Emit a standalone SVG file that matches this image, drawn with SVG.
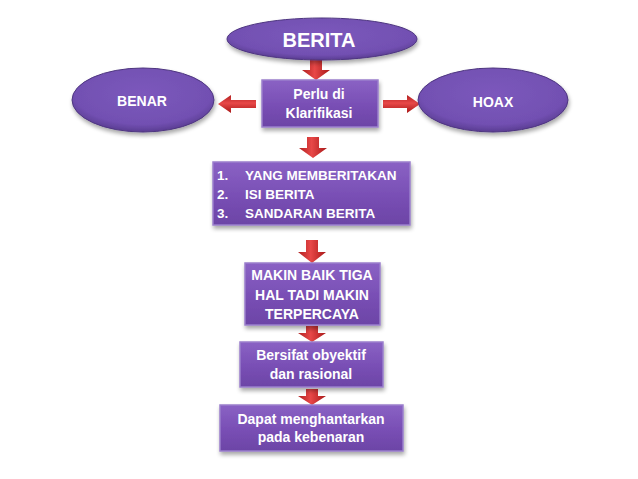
<svg xmlns="http://www.w3.org/2000/svg" width="638" height="479" viewBox="0 0 638 479">
<defs>
<linearGradient id="boxg" x1="0" y1="0" x2="0" y2="1">
<stop offset="0" stop-color="#8a62c4"/>
<stop offset="0.5" stop-color="#7a50b6"/>
<stop offset="1" stop-color="#6c44a6"/>
</linearGradient>
<radialGradient id="ellg" cx="0.5" cy="0.4" r="0.6">
<stop offset="0" stop-color="#7c58bc"/>
<stop offset="0.8" stop-color="#7250b2"/>
<stop offset="1" stop-color="#5a3c92"/>
</radialGradient>
<linearGradient id="arrv" x1="0" y1="0" x2="1" y2="0">
<stop offset="0" stop-color="#b02020"/>
<stop offset="0.45" stop-color="#e84848"/>
<stop offset="1" stop-color="#a81818"/>
</linearGradient>
<linearGradient id="arrh" x1="0" y1="0" x2="0" y2="1">
<stop offset="0" stop-color="#b02020"/>
<stop offset="0.45" stop-color="#e84848"/>
<stop offset="1" stop-color="#a81818"/>
</linearGradient>
<filter id="sh" x="-10%" y="-10%" width="125%" height="135%">
<feGaussianBlur in="SourceAlpha" stdDeviation="2"/>
<feOffset dx="1" dy="3" result="b"/>
<feComponentTransfer><feFuncA type="linear" slope="0.35"/></feComponentTransfer>
<feMerge><feMergeNode/><feMergeNode in="SourceGraphic"/></feMerge>
</filter>
</defs>
<style>
.box{fill:url(#boxg);stroke:#9a7fcc;stroke-width:1.5;filter:url(#sh)}
.ell{fill:url(#ellg);stroke:#4e3680;stroke-width:1;filter:url(#sh)}
.t{font-family:"Liberation Sans",Arial,sans-serif;font-weight:bold;fill:#ffffff;font-size:14px;text-anchor:middle}
.l{font-size:13.5px;text-anchor:start}
.av{fill:url(#arrv)}
.ah{fill:url(#arrh)}
</style>
<rect width="638" height="479" fill="#ffffff"/>

<g id="connectors">
<path class="av" d="M310,58 H322 V70 H330 L316,80 L302,70 H310 Z"/>
<path class="ah" d="M256,100 V108 H231 V113 L218,104 L231,95 V100 Z"/>
<path class="ah" d="M383,100 V108 H407 V113 L420,104 L407,95 V100 Z"/>
<path class="av" d="M307,137 H319 V148 H327 L313,158 L299,148 H307 Z"/>
<path class="av" d="M306,240 H318 V252 H326 L312,263 L298,252 H306 Z"/>
<path class="av" d="M306,326 H318 V333 H326 L312,342 L298,333 H306 Z"/>
<path class="av" d="M306,389 H318 V396 H326 L312,405 L298,396 H306 Z"/>
</g>

<g id="berita">
<ellipse class="ell" cx="322" cy="39" rx="95" ry="21"/>
<text class="t" x="319" y="47" style="font-size:20px">BERITA</text>
</g>

<g id="benar">
<ellipse class="ell" cx="143" cy="100" rx="71" ry="32"/>
<text class="t" x="142" y="106">BENAR</text>
</g>

<g id="hoax">
<ellipse class="ell" cx="493" cy="100" rx="75" ry="32"/>
<text class="t" x="493" y="107">HOAX</text>
</g>

<g id="perlu">
<rect class="box" x="262" y="80" width="116" height="47"/>
<text class="t" x="319" y="99">Perlu di</text>
<text class="t" x="319" y="118">Klarifikasi</text>
</g>

<g id="list">
<rect class="box" x="213" y="162" width="197" height="63"/>
<text class="t l" x="217" y="180">1.</text>
<text class="t l" x="245" y="180">YANG MEMBERITAKAN</text>
<text class="t l" x="217" y="199">2.</text>
<text class="t l" x="245" y="199">ISI BERITA</text>
<text class="t l" x="217" y="218">3.</text>
<text class="t l" x="245" y="218">SANDARAN BERITA</text>
</g>

<g id="makin">
<rect class="box" x="245" y="263" width="135" height="62"/>
<text class="t" x="312" y="280">MAKIN BAIK TIGA</text>
<text class="t" x="312" y="300">HAL TADI MAKIN</text>
<text class="t" x="312" y="319">TERPERCAYA</text>
</g>

<g id="bersifat">
<rect class="box" x="240" y="342" width="143" height="45"/>
<text class="t" x="311" y="360">Bersifat obyektif</text>
<text class="t" x="311" y="379">dan rasional</text>
</g>

<g id="dapat">
<rect class="box" x="220" y="405" width="183" height="46"/>
<text class="t" x="311" y="424">Dapat menghantarkan</text>
<text class="t" x="311" y="442">pada kebenaran</text>
</g>
</svg>
